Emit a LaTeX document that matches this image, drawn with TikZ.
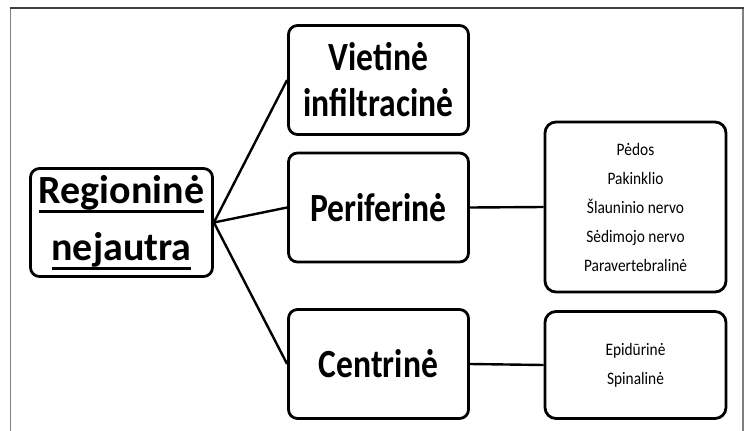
\documentclass[tikz,border=0pt]{standalone}
\usepackage{fontspec}
\setmainfont{Carlito}
\newfontfamily\branchfont{Carlito}[FakeStretch=0.84]
\newfontfamily\listfont{Carlito}[FakeStretch=0.88]
\usepackage{tikz}
\definecolor{framegray}{RGB}{128, 128, 128}
\definecolor{topgray}{RGB}{64, 64, 64}
\newcommand{\pabr}[1]{\setbox0\hbox{#1}\rlap{\rule[-10pt]{\wd0}{3pt}}\box0}

\begin{document}
\begin{tikzpicture}[
      x=1pt, y=-1pt,
      root/.style={
          draw=black, line width=2.8pt, rounded corners=9pt,
          fill=white, text=black,
          minimum width=182pt, minimum height=108pt,
          align=center, font=\fontsize{40}{57}\selectfont\bfseries
      },
      branch/.style={
          draw=black, line width=2.8pt, rounded corners=9pt,
          fill=white, text=black,
          minimum width=180pt, minimum height=109pt,
          align=center, font=\branchfont\fontsize{40}{46}\selectfont\bfseries
      },
      list/.style={
          draw=black, line width=2.8pt, rounded corners=11pt,
          fill=white, text=black,
          minimum width=181pt,
          align=center, font=\listfont\fontsize{17.5}{29}\selectfont
      },
      line/.style={
          draw=black, line width=2.4pt
      }
  ]
      \useasboundingbox (0,0) rectangle (747,431);
      % Rėmelis
      \draw[framegray, line width=1.6pt] (10.5,8) -- (10.5,431);
      \draw[framegray, line width=1.6pt] (743,8) -- (743,431);
      \draw[topgray, line width=1.4pt] (9.7,8) -- (743.8,8);

      % Šaknis
      \node[root] (reg) at (121.5, 222.5) {\pabr{Regioninė}\\\pabr{nejautra}};

      % Šakos
      \node[branch] (viet) at (378.5, 80) {Vietinė\\infiltracinė};
      \node[branch] (perif) at (378.5, 207.5) {Periferinė};
      \node[branch] (centr) at (378.5, 364) {Centrinė};

      % Sąrašai
      \node[list, minimum height=170pt] (perifList) at (635.5, 207) {
          Pėdos\\
          Pakinklio\\
          Šlauninio nervo\\
          Sėdimojo nervo\\
          Paravertebralinė
      };
      \node[list, minimum height=107pt] (centrList) at (635.5, 365) {
          Epidūrinė\\
          Spinalinė
      };

      % Jungtys
      \draw[line] (reg.east) -- (viet.west);
      \draw[line] (reg.east) -- (perif.west);
      \draw[line] (reg.east) -- (centr.west);
      \draw[line] (perif.east) -- (perifList.west);
      \draw[line] (centr.east) -- (centrList.west);
  \end{tikzpicture}
\end{document}
